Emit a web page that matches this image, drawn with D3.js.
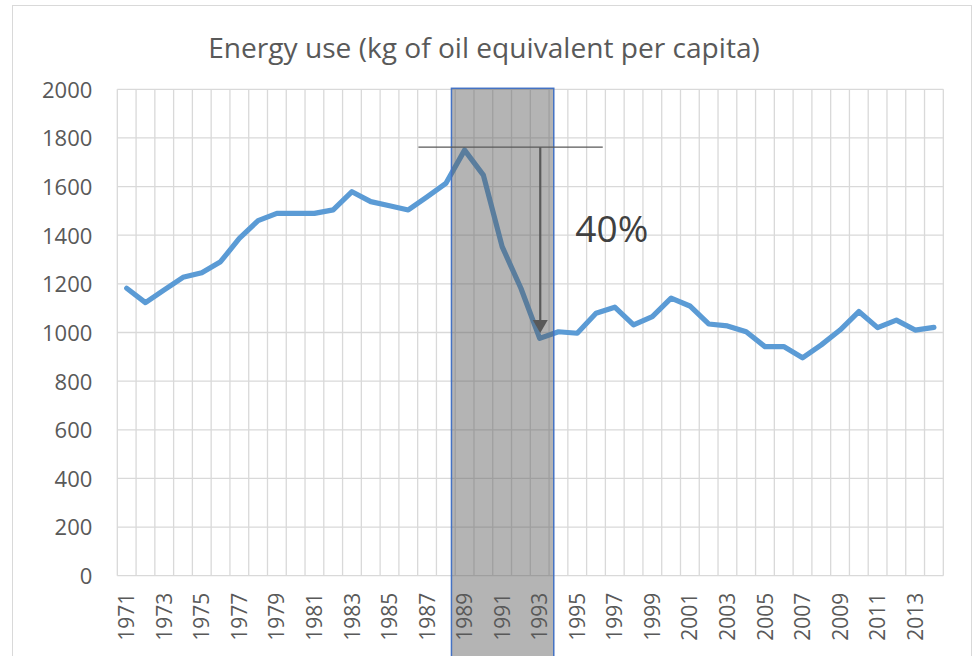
<!DOCTYPE html>
<html>
<head>
<meta charset="utf-8">
<script src="https://cdn.jsdelivr.net/npm/d3@7"></script>
<style>
  html, body { margin: 0; padding: 0; background: #ffffff; }
  svg { display: block; }
  text { font-family: "Open Sans", "Liberation Sans", sans-serif; }
</style>
</head>
<body>
<div id="chart"></div>
<script>
// ---------- data ----------
const title = "Energy use (kg of oil equivalent per capita)";
const years = d3.range(1971, 2015);
const energyUse = [
  1182, 1123, 1175, 1227, 1246, 1291, 1387, 1460, 1490, 1490,
  1490, 1504, 1579, 1538, 1521, 1504, 1558, 1613, 1750, 1647,
  1353, 1182, 976, 1003, 997, 1079, 1104, 1031, 1065, 1141,
  1109, 1035, 1027, 1003, 942, 942, 896, 949, 1010, 1086,
  1020, 1051, 1010, 1021
];
const yTicks = [0, 200, 400, 600, 800, 1000, 1200, 1400, 1600, 1800, 2000];
const xTickLabels = years.filter((d, i) => i % 2 === 0);
const dropLabel = "40%";
// annotation anchors (in data units)
const shadeYears = [1988.3, 1993.75];
const peakLevel = 1762;
const peakLineYears = [1986.54, 1996.36];
const arrowYear = 1993.03;
const arrowTipValue = 998;
const labelPos = { year: 1994.9, value: 1373 };

// ---------- layout ----------
const W = 979, H = 656;
const plot = { left: 117.3, right: 943.3, top: 89.3, bottom: 575.7 };

const svg = d3.select("#chart").append("svg")
  .attr("width", W).attr("height", H);

// outer chart border
svg.append("rect")
  .attr("x", 12.5).attr("y", 5.5)
  .attr("width", 959).attr("height", 700)
  .attr("fill", "#ffffff").attr("stroke", "#D9D9D9").attr("stroke-width", 1);

const x = d3.scaleBand().domain(years).range([plot.left, plot.right]).padding(0);
const bw = x.bandwidth();
const xl = d3.scaleLinear().domain([1971, 2014])
  .range([x(1971) + bw / 2, x(2014) + bw / 2]);
const y = d3.scaleLinear().domain([0, 2000]).range([plot.bottom, plot.top]);

// ---------- gridlines ----------
const grid = svg.append("g").attr("class", "grid");
grid.selectAll("line.h").data(yTicks).join("line")
  .attr("class", "h")
  .attr("x1", plot.left).attr("x2", plot.right)
  .attr("y1", d => y(d)).attr("y2", d => y(d))
  .attr("stroke", "#D9D9D9").attr("stroke-width", 1.3);
const vEdges = years.map(d => x(d)).concat([x(2014) + bw]);
grid.selectAll("line.v").data(vEdges).join("line")
  .attr("class", "v")
  .attr("x1", d => d).attr("x2", d => d)
  .attr("y1", plot.top).attr("y2", plot.bottom)
  .attr("stroke", "#D9D9D9").attr("stroke-width", 1.3);

// ---------- axes ----------
const yAxis = d3.axisLeft(y).tickValues(yTicks).tickSize(0).tickPadding(25)
  .tickFormat(d3.format("d"));
const yg = svg.append("g").attr("transform", `translate(${plot.left},0)`).call(yAxis);
yg.select(".domain").remove();
yg.selectAll("text")
  .attr("fill", "#595959").style("font-size", "22px")
  .attr("dy", "0.36em");

const xAxis = d3.axisBottom(x).tickValues(xTickLabels).tickSize(0).tickPadding(0);
const xg = svg.append("g").attr("transform", `translate(0,${plot.bottom})`).call(xAxis);
xg.select(".domain").remove();
xg.selectAll("text")
  .attr("fill", "#595959").style("font-size", "21px")
  .attr("text-anchor", "end")
  .attr("transform", "rotate(-90)")
  .attr("x", -17).attr("y", 0).attr("dy", "0.36em");

// ---------- line ----------
const series = years.map((yr, i) => ({ year: yr, value: energyUse[i] }));
const line = d3.line().x(d => x(d.year) + bw / 2).y(d => y(d.value));
svg.append("path").datum(series)
  .attr("d", line)
  .attr("fill", "none")
  .attr("stroke", "#5B9BD5")
  .attr("stroke-width", 5.2)
  .attr("stroke-linejoin", "round")
  .attr("stroke-linecap", "round");

// ---------- shaded highlight ----------
svg.append("rect")
  .attr("x", xl(shadeYears[0]))
  .attr("y", y(2000) - 1)
  .attr("width", xl(shadeYears[1]) - xl(shadeYears[0]))
  .attr("height", H - y(2000) + 10)
  .attr("fill", "#595959").attr("fill-opacity", 0.45)
  .attr("stroke", "#4472C4").attr("stroke-width", 1.5);

// ---------- peak line and arrow ----------
const annCol = "#595959";
svg.append("line")
  .attr("x1", xl(peakLineYears[0])).attr("x2", xl(peakLineYears[1]))
  .attr("y1", y(peakLevel)).attr("y2", y(peakLevel))
  .attr("stroke", annCol).attr("stroke-width", 1.2);

const ax = xl(arrowYear);
const tipY = y(arrowTipValue);
svg.append("line")
  .attr("x1", ax).attr("x2", ax)
  .attr("y1", y(peakLevel)).attr("y2", tipY - 12)
  .attr("stroke", annCol).attr("stroke-width", 2.2);
svg.append("path")
  .attr("d", `M${ax - 7.5},${tipY - 13} L${ax + 7.5},${tipY - 13} L${ax},${tipY} Z`)
  .attr("fill", annCol);

svg.append("text")
  .attr("x", xl(labelPos.year)).attr("y", y(labelPos.value))
  .attr("fill", "#404040").style("font-size", "37px")
  .text(dropLabel);

// ---------- title ----------
const t = svg.append("text")
  .attr("x", 484).attr("y", 58)
  .attr("text-anchor", "middle")
  .attr("fill", "#595959").style("font-size", "25px")
  .text(title);
const tw = t.node().getComputedTextLength();
if (tw > 0) t.style("font-size", (25 * 552 / tw).toFixed(2) + "px");
</script>
</body>
</html>
